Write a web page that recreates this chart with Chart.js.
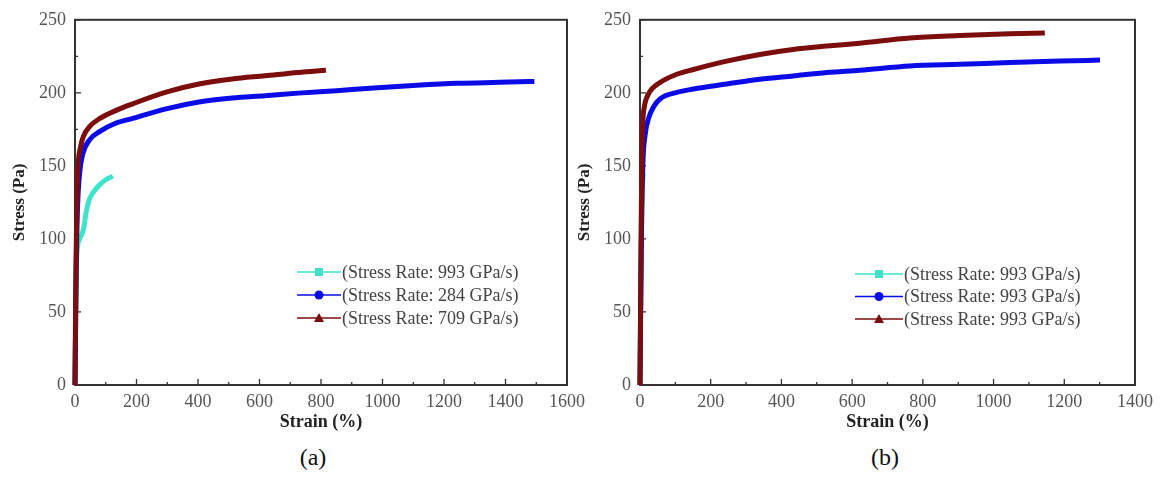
<!DOCTYPE html>
<html>
<head>
<meta charset="utf-8">
<script src="https://cdn.jsdelivr.net/npm/chart.js@4.4.1/dist/chart.umd.min.js"></script>
<style>
  body { margin: 0; background: #fff; width: 1166px; height: 478px; position: relative; overflow: hidden; font-family: "Liberation Serif", "Times New Roman", serif; }
  canvas { position: absolute; top: 0; }
  #chartA { left: 0; }
  #chartB { left: 565px; }
  .cap { position: absolute; top: 444px; width: 60px; text-align: center; font-size: 24px; color: #111; }
</style>
</head>
<body>
<canvas id="chartA" width="591" height="440"></canvas>
<canvas id="chartB" width="601" height="440"></canvas>
<div class="cap" style="left:283px">(a)</div>
<div class="cap" style="left:855px">(b)</div>
<script>
// panel (a)
const strainA993 = [0, 5, 15, 28, 36, 45, 60, 80, 100, 123];
const stressA993 = [0, 85, 100, 107, 118, 126, 132, 137, 140.5, 143];
const strainA284 = [0, 4, 8, 15, 25, 48, 81, 130, 188, 296, 403, 511, 618, 726, 850, 984, 1100, 1242, 1380, 1494];
const stressA284 = [0, 80, 120, 145, 158, 168, 173.6, 179, 182.5, 189, 193.7, 196.4, 198, 199.8, 201.5, 203.5, 205, 206.5, 207.2, 207.8];
const strainA709 = [0, 3, 6, 10, 18, 27, 48, 81, 134, 188, 296, 403, 511, 618, 726, 816];
const stressA709 = [0, 80, 125, 150, 163, 170, 177, 182.5, 188, 192.5, 200.5, 206, 209.5, 211.7, 214, 215.5];
const labelsA = ['(Stress Rate: 993 GPa/s)', '(Stress Rate: 284 GPa/s)', '(Stress Rate: 709 GPa/s)'];

// panel (b)
const strainB1 = [0, 3, 6, 9];
const stressB1 = [0, 90, 130, 145];
const strainB2 = [0, 4, 8, 15, 25, 37.7, 56.6, 104, 151, 245, 339, 433, 528, 622, 764, 905, 1046, 1188, 1301];
const stressB2 = [0, 100, 150, 172, 183, 190.2, 195.8, 200.3, 202.6, 206, 209.3, 211.6, 213.9, 215.5, 218.4, 219.5, 220.7, 221.8, 222.4];
const strainB3 = [0, 3, 5, 8, 12, 23.6, 56.6, 104, 151, 245, 339, 433, 528, 622, 764, 905, 1046, 1145];
const stressB3 = [0, 100, 150, 180, 190, 199, 207, 212.7, 216, 221.7, 226.3, 229.7, 232, 234, 237.5, 239.2, 240.5, 241];
const labelsB = ['(Stress Rate: 993 GPa/s)', '(Stress Rate: 993 GPa/s)', '(Stress Rate: 993 GPa/s)'];

const yTicks = [0, 50, 100, 150, 200, 250];
const xMaxA = 1600, xMaxB = 1400;

const CYAN = '#3fe3c9', BLUE = '#0b0be8', DRED = '#7b0d0d';
const FONT = '"Liberation Serif", "Times New Roman", serif';

function pts(xs, ys) { return xs.map((v, i) => ({ x: v, y: ys[i] })); }

function series(label, xs, ys, color, marker, order) {
  return {
    label, data: pts(xs, ys), borderColor: color, backgroundColor: color,
    borderWidth: 5, pointRadius: 0, showLine: true, order,
    cubicInterpolationMode: 'monotone', clip: 5, marker
  };
}

// frame box + inward ticks + inset legend
const frameTicks = {
  id: 'frameTicks',
  beforeDatasetsDraw(chart) {
    const { ctx, chartArea: a, scales: { x, y } } = chart;
    ctx.save();
    ctx.strokeStyle = '#333';
    ctx.lineWidth = 1.3;
    ctx.beginPath();
    for (let v = 0; v <= x.max; v += 100) {
      const px = x.getPixelForValue(v);
      ctx.moveTo(px, a.bottom);
      ctx.lineTo(px, a.bottom - (v % 200 === 0 ? 6 : 3));
    }
    for (let v = 0; v <= y.max; v += 25) {
      const py = y.getPixelForValue(v);
      ctx.moveTo(a.left, py);
      ctx.lineTo(a.left + (v % 50 === 0 ? 6 : 3), py);
    }
    ctx.stroke();
    ctx.lineWidth = 2;
    ctx.strokeRect(a.left, a.top, a.right - a.left, a.bottom - a.top);
    ctx.restore();
  },
  afterDraw(chart) {
    const o = chart.options.plugins.frameTicks;
    const { ctx, chartArea: a } = chart;
    ctx.save();
    ctx.font = '18px ' + FONT;
    ctx.textBaseline = 'middle';
    chart.data.datasets.forEach((ds, i) => {
      const x0 = a.left + o.dx, y0 = a.bottom + o.dy + i * o.gap;
      const xm = x0 + o.len / 2;
      ctx.strokeStyle = ds.borderColor;
      ctx.fillStyle = ds.borderColor;
      ctx.lineWidth = 1.5;
      ctx.beginPath();
      ctx.moveTo(x0, y0); ctx.lineTo(x0 + o.len, y0);
      ctx.stroke();
      ctx.beginPath();
      if (ds.marker === 'rect') ctx.rect(xm - 4, y0 - 4, 8, 8);
      else if (ds.marker === 'circle') ctx.arc(xm, y0, 4.5, 0, Math.PI * 2);
      else { ctx.moveTo(xm, y0 - 5); ctx.lineTo(xm + 5, y0 + 4); ctx.lineTo(xm - 5, y0 + 4); ctx.closePath(); }
      ctx.fill();
      ctx.fillStyle = '#444';
      ctx.fillText(ds.label, x0 + o.len + 1, y0 + 1);
    });
    ctx.restore();
  }
};

function makeChart(id, datasets, xMax, padRight, legend) {
  return new Chart(document.getElementById(id), {
    type: 'scatter',
    data: { datasets },
    plugins: [frameTicks],
    options: {
      responsive: false,
      animation: false,
      layout: { padding: { top: 15, right: padRight, left: 0, bottom: 0 } },
      plugins: { legend: { display: false }, tooltip: { enabled: false }, frameTicks: legend },
      scales: {
        x: {
          type: 'linear', min: 0, max: xMax,
          grid: { display: false, drawTicks: false },
          border: { display: false },
          ticks: { stepSize: 200, padding: 6, color: '#555', font: { family: FONT, size: 18 }, callback: v => String(v) },
          title: { display: true, text: 'Strain (%)', color: '#222', padding: { top: 0, bottom: 7 }, font: { family: FONT, size: 18, weight: 'bold' } },
          afterFit(s) { s.height = 55; }
        },
        y: {
          type: 'linear', min: 0, max: 250,
          grid: { display: false, drawTicks: false },
          border: { display: false },
          afterBuildTicks(s) { s.ticks = yTicks.map(v => ({ value: v })); },
          ticks: { padding: 9, color: '#555', font: { family: FONT, size: 18 }, callback: v => String(v) },
          title: { display: true, text: 'Stress (Pa)', color: '#222', padding: { top: 9, bottom: 0 }, font: { family: FONT, size: 17, weight: 'bold' } },
          afterFit(s) { s.width = 75; }
        }
      }
    }
  });
}

makeChart('chartA', [
  series(labelsA[0], strainA993, stressA993, CYAN, 'rect', 2),
  series(labelsA[1], strainA284, stressA284, BLUE, 'circle', 1),
  series(labelsA[2], strainA709, stressA709, DRED, 'triangle', 0)
], xMaxA, 20, { dx: 222, dy: -113, gap: 23, len: 44 });

makeChart('chartB', [
  series(labelsB[0], strainB1, stressB1, CYAN, 'rect', 2),
  series(labelsB[1], strainB2, stressB2, BLUE, 'circle', 1),
  series(labelsB[2], strainB3, stressB3, DRED, 'triangle', 0)
], xMaxB, 31, { dx: 215, dy: -111, gap: 22.5, len: 48 });
</script>
</body>
</html>
